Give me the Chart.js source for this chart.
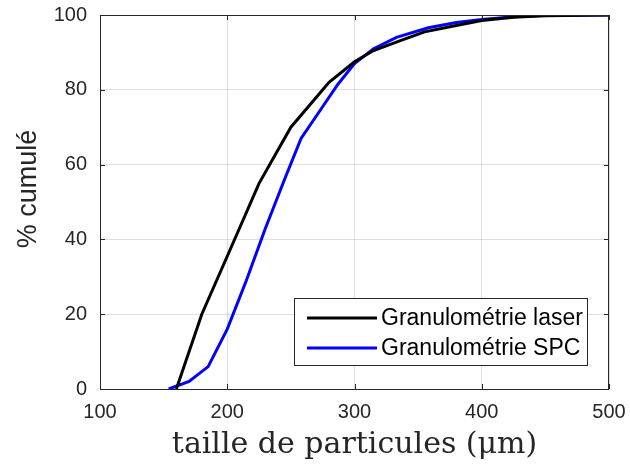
<!DOCTYPE html>
<html>
<head>
<meta charset="utf-8">
<script src="https://cdn.jsdelivr.net/npm/chart.js@4/dist/chart.umd.min.js"></script>
<style>
  html, body { margin: 0; padding: 0; background: #fff; }
  #wrap { width: 630px; height: 470px; }
</style>
</head>
<body>
<div id="wrap"><canvas id="chart" width="630" height="470"></canvas></div>
<script>
// particle size (µm) and cumulative %
const laserSize = [160, 180, 200, 225, 250, 280, 300, 315, 335, 355, 380, 400, 425, 450, 500];
const laserCum  = [0, 20, 35.5, 55, 70, 82, 87.5, 90.5, 93, 95.5, 97.2, 98.5, 99.4, 99.8, 100];
const spcSize = [154, 170, 185, 200, 215, 230, 245, 258, 272, 287, 300, 315, 333, 358, 380, 400, 425, 450, 500];
const spcCum  = [0, 2, 6, 16, 29, 43, 56, 67, 74, 81.5, 87, 91, 94, 96.6, 98, 98.8, 99.5, 99.9, 100];
const xTicks = [100, 200, 300, 400, 500];
const yTicks = [0, 20, 40, 60, 80, 100];
const yTitle = '% cumulé';

const AXIS = '#262626';
const SANS = '"Liberation Sans", Arial, sans-serif';
const pts = (xs, ys) => xs.map((x, i) => ({ x: x, y: ys[i] }));

// no label overhang: chart area is set by layout padding only
function noPad(s) { s.paddingTop = 0; s.paddingBottom = 0; s.paddingLeft = 0; s.paddingRight = 0; }

// MATLAB-like box with inward ticks, y title, legend box in the lower right
const framePlugin = {
  id: 'frame',
  afterDraw(chart) {
    const ctx = chart.ctx, a = chart.chartArea;
    const xs = chart.scales.x, ys = chart.scales.y;
    ctx.save();
    ctx.strokeStyle = AXIS;
    ctx.lineWidth = 1;
    ctx.strokeRect(a.left + 0.5, a.top + 0.5, a.right - a.left - 1, a.bottom - a.top);
    ctx.beginPath();
    xTicks.forEach(v => {
      const px = Math.round(xs.getPixelForValue(v)) + 0.5;
      ctx.moveTo(px, a.bottom); ctx.lineTo(px, a.bottom - 5);
      ctx.moveTo(px, a.top); ctx.lineTo(px, a.top + 5);
    });
    yTicks.forEach(v => {
      const py = Math.round(ys.getPixelForValue(v)) + 0.5;
      ctx.moveTo(a.left, py); ctx.lineTo(a.left + 5, py);
      ctx.moveTo(a.right, py); ctx.lineTo(a.right - 5, py);
    });
    ctx.stroke();

    // y title (sits a bit above the axis middle, as in the original)
    ctx.save();
    ctx.translate(29, 189);
    ctx.rotate(-Math.PI / 2);
    ctx.font = '27px ' + SANS;
    ctx.fillStyle = AXIS;
    ctx.textAlign = 'center';
    ctx.textBaseline = 'middle';
    ctx.fillText(yTitle, 0, 0);
    ctx.restore();

    // legend
    const lx = 294, ly = 298, lw = 293, lh = 67;
    ctx.fillStyle = '#fff';
    ctx.fillRect(lx, ly, lw, lh);
    ctx.strokeStyle = AXIS;
    ctx.strokeRect(lx + 0.5, ly + 0.5, lw, lh);
    ctx.font = '23px ' + SANS;
    ctx.textBaseline = 'middle';
    chart.data.datasets.forEach((ds, i) => {
      const cy = ly + 20 + i * 30;
      ctx.strokeStyle = ds.borderColor;
      ctx.lineWidth = 3;
      ctx.beginPath();
      ctx.moveTo(lx + 13, cy); ctx.lineTo(lx + 83, cy);
      ctx.stroke();
      ctx.fillStyle = '#000';
      ctx.fillText(ds.label, lx + 87, cy + 1);
    });
    ctx.restore();
  }
};

new Chart(document.getElementById('chart'), {
  type: 'scatter',
  data: {
    datasets: [
      { label: 'Granulométrie laser', data: pts(laserSize, laserCum), showLine: true, borderColor: '#000000', borderWidth: 3, pointRadius: 0, tension: 0 },
      { label: 'Granulométrie SPC', data: pts(spcSize, spcCum), showLine: true, borderColor: '#0000ff', borderWidth: 3, pointRadius: 0, tension: 0 }
    ]
  },
  options: {
    responsive: false,
    animation: false,
    layout: { padding: { left: 0, top: 15, right: 21, bottom: 0 } },
    plugins: { legend: { display: false }, tooltip: { enabled: false } },
    scales: {
      x: {
        type: 'linear', min: 100, max: 500,
        afterBuildTicks: s => { s.ticks = xTicks.map(v => ({ value: v })); },
        afterFit: s => { s.height = 81; noPad(s); },
        grid: { color: 'rgba(38,38,38,0.15)', drawTicks: false },
        border: { display: false },
        ticks: { color: AXIS, padding: 11, maxRotation: 0, font: { family: SANS, size: 20 } },
        title: { display: true, text: 'taille de particules (μm)', color: AXIS, padding: { bottom: 7 }, font: { family: '"DejaVu Serif", serif', size: 30 } }
      },
      y: {
        type: 'linear', min: 0, max: 100,
        afterBuildTicks: s => { s.ticks = yTicks.map(v => ({ value: v })); },
        afterFit: s => { s.width = 100; noPad(s); },
        grid: { color: 'rgba(38,38,38,0.15)', drawTicks: false },
        border: { display: false },
        ticks: { color: AXIS, padding: 13, font: { family: SANS, size: 20 } },
        title: { display: false }
      }
    }
  },
  plugins: [framePlugin]
});
</script>
</body>
</html>
